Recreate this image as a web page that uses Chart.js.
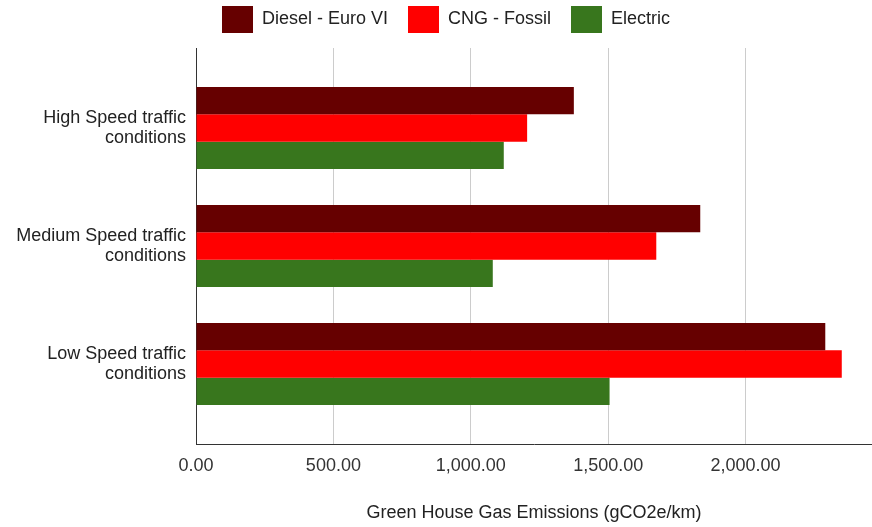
<!DOCTYPE html>
<html>
<head>
<meta charset="utf-8">
<title>Green House Gas Emissions</title>
<script src="https://cdn.jsdelivr.net/npm/chart.js@4/dist/chart.umd.min.js"></script>
<style>
  html, body { margin: 0; padding: 0; background: #fff; }
</style>
</head>
<body>
<canvas id="chart" width="872" height="527"></canvas>
<script>
const categories = [
  ['High Speed traffic', 'conditions'],
  ['Medium Speed traffic', 'conditions'],
  ['Low Speed traffic', 'conditions']
];
const seriesNames = ['Diesel - Euro VI', 'CNG - Fossil', 'Electric'];
const diesel = [1375, 1835, 2290];
const cng = [1205, 1675, 2350];
const electric = [1120, 1080, 1505];
const xTicks = [0, 500, 1000, 1500, 2000];

const colors = ['#660000', '#ff0000', '#38761d'];

Chart.defaults.font.family = "'Liberation Sans', Arial, sans-serif";
Chart.defaults.font.size = 18;
Chart.defaults.color = '#333';

// extra room under the legend, and nudge it a bit to the right
const legendTweak = {
  id: 'legendTweak',
  beforeInit(chart) {
    const fit = chart.legend.fit.bind(chart.legend);
    chart.legend.fit = () => { fit(); chart.legend.height += 5; };
  },
  afterLayout(chart) {
    chart.legend.left += 10;
    chart.legend.right += 10;
  }
};

const ctx = document.getElementById('chart').getContext('2d');
new Chart(ctx, {
  type: 'bar',
  data: {
    labels: categories,
    datasets: [diesel, cng, electric].map((d, i) => ({
      label: seriesNames[i],
      data: d,
      backgroundColor: colors[i],
      borderWidth: 0,
      categoryPercentage: 0.695,
      barPercentage: 1
    }))
  },
  plugins: [legendTweak],
  options: {
    indexAxis: 'y',
    responsive: false,
    devicePixelRatio: 1,
    animation: false,
    layout: { padding: { top: -14, left: 0, right: 0, bottom: 0 } },
    plugins: {
      legend: {
        position: 'top',
        labels: { boxWidth: 31, boxHeight: 27, padding: 20, color: '#222' }
      },
      tooltip: { enabled: false }
    },
    scales: {
      x: {
        min: 0,
        max: 2460,
        afterBuildTicks: s => { s.ticks = xTicks.map(v => ({ value: v })); },
        afterFit: s => { s.height = 83; },
        grid: { color: '#ccc', drawTicks: false },
        border: { color: '#333', width: 1 },
        ticks: {
          padding: 11,
          color: '#333',
          callback: v => Number(v).toLocaleString('en-US', { minimumFractionDigits: 2, maximumFractionDigits: 2 })
        },
        title: {
          display: true,
          text: 'Green House Gas Emissions (gCO2e/km)',
          color: '#222',
          padding: { top: 0, bottom: 3 }
        }
      },
      y: {
        afterBuildTicks: s => {
          // leave some space above the first and below the last category
          s._startValue -= 0.178;
          s._valueRange += 0.356;
        },
        afterFit: s => { s.width = 196; },
        grid: { display: false, drawTicks: false },
        border: { color: '#333', width: 1 },
        ticks: { padding: 10, color: '#222', font: { lineHeight: 1.1 } }
      }
    }
  }
});
</script>
</body>
</html>
